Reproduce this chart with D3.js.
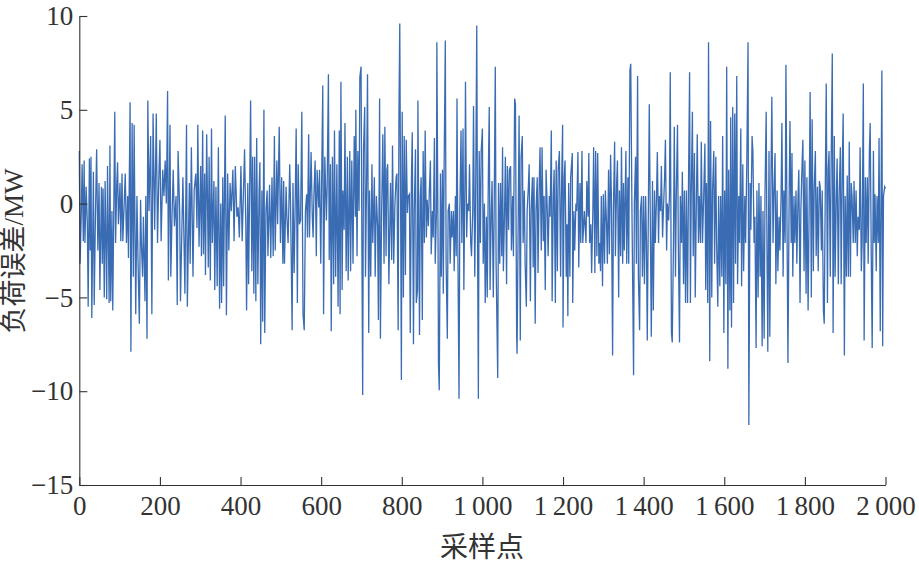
<!DOCTYPE html>
<meta charset="utf-8">
<script src="https://cdn.jsdelivr.net/npm/d3@7"></script>
<style>
  body { margin: 0; background: #fff; }
</style>
<div id="my_dataviz"></div>

<script>

// sample number (x) and load error in MW (y)
var sampleNo = [
  0,2,5,7,10,12,14,17,20,22,25,27,29,31,35,37,40,43,46,49,51,55,57,59,62,64,68,70,74,76,78,81,83,88,90,93,95,97,101,103,106,108,112,114,117,120,122,126,128,131,134,136,140,143,146,149,152,154,157,159,163,165,168,170,173,177,180,183,187,191,194,197,200,203,207,210,213,216,219,221,225,227,230,233,236,240,243,245,249,
  251,257,262,266,268,273,275,278,282,285,289,292,294,297,301,303,306,308,311,313,316,320,322,325,328,330,334,336,339,342,345,348,351,353,356,358,362,365,368,371,374,377,381,384,387,391,394,397,401,404,407,410,413,415,418,420,425,428,430,433,435,438,440,443,446,448,450,453,455,458,460,463,466,468,472,475,478,481,484,486,490,492,496,499,502,505,
  507,509,513,515,518,522,524,528,530,533,536,538,541,543,546,549,552,555,558,561,564,566,569,571,575,578,580,582,585,588,590,594,596,599,602,604,606,609,613,615,618,620,623,625,628,631,633,636,639,642,645,647,649,652,654,657,659,662,665,667,671,673,676,679,682,685,686,689,691,694,696,699,701,703,705,708,710,713,715,718,720,723,726,728,732,734,737,740,742,745,747,750,753,756,758,761,763,765,768,
  772,775,777,780,783,786,788,791,793,795,797,799,801,804,806,809,811,814,816,819,821,824,826,829,831,834,836,839,840,844,846,848,851,853,856,858,861,863,866,868,871,873,876,878,881,883,886,887,890,891,893,896,898,901,903,905,908,910,913,915,918,920,923,925,928,930,933,935,937,939,942,944,947,949,952,954,957,958,961,963,966,968,971,973,976,978,981,983,986,988,990,992,995,997,1000,1002,1005,1007,1010,1012,1015,1017,1019,1022,1024,1027,
  1029,1032,1034,1038,1040,1043,1045,1048,1050,1052,1055,1057,1060,1062,1065,1067,1070,1072,1075,1077,1080,1082,1085,1086,1089,1091,1094,1096,1099,1101,1104,1106,1109,1111,1114,1116,1119,1121,1124,1126,1128,1131,1133,1136,1138,1141,1143,1146,1148,1151,1153,1156,1158,1161,1163,1166,1168,1171,1173,1176,1178,1181,1183,1186,1188,1191,1194,1196,1199,1200,1203,1205,1208,1210,1212,1214,1217,1219,1223,1224,1227,1229,1232,1234,1237,1239,1242,1244,1247,1249,1253,1257,1259,1262,1264,1266,1269,1271,1274,1276,1279,1281,1284,1286,1289,
  1291,1293,1295,1298,1300,1303,1305,1308,1310,1313,1315,1318,1320,1323,1325,1328,1330,1333,1335,1338,1340,1343,1345,1348,1350,1352,1356,1358,1361,1363,1366,1368,1371,1373,1375,1377,1380,1382,1385,1387,1390,1392,1395,1397,1400,1402,1405,1407,1409,1412,1414,1417,1419,1422,1424,1427,1429,1432,1434,1437,1439,1442,1444,1447,1449,1452,1454,1457,1459,1462,1464,1466,1469,1471,1474,1476,1479,1481,1484,1486,1489,1491,1494,1496,1499,1501,1504,1506,1509,1511,1514,1516,1518,1521,1523,1526,1528,1531,1533,1536,1538,1541,1543,1546,
  1549,1552,1554,1556,1559,1561,1564,1566,1569,1571,1574,1576,1579,1581,1584,1586,1589,1591,1594,1596,1599,1601,1604,1606,1609,1611,1614,1616,1618,1621,1623,1626,1628,1631,1633,1636,1638,1641,1643,1646,1648,1651,1653,1656,1659,1661,1664,1666,1669,1671,1674,1676,1679,1681,1684,1686,1689,1691,1694,1696,1699,1701,1704,1706,1708,1711,1713,1716,1718,1721,1723,1726,1728,1731,1733,1736,1738,1741,1743,1746,1748,1751,1753,1756,1758,1761,1763,1766,1768,1770,1773,1775,1778,1780,1783,1785,1788,1790,1793,1795,1798,1800,1803,1805,1808,
  1811,1813,1816,1818,1821,1823,1826,1828,1831,1833,1836,1838,1841,1843,1846,1848,1851,1853,1856,1858,1860,1863,1865,1868,1870,1873,1875,1878,1880,1883,1885,1888,1890,1893,1895,1898,1900,1903,1905,1908,1910,1913,1915,1917,1920,1922,1925,1927,1930,1932,1935,1937,1940,1942,1945,1947,1950,1952,1955,1957,1960,1962,1965,1967,1970,1972,1974,1977,1979,1982,1984,1987,1989,1991,1993,1995,1998,2000
];

var loadErr = [
  2.8,-3.2,-0.4,2.1,-2.0,2.3,-2.1,0.9,-1.1,-5.5,2.4,-2.5,2.5,-6.1,1.7,-5.4,-0.7,2.9,-2.5,1.1,-4.6,0.9,-3.2,0.8,-5.0,1.2,-5.1,2.0,-5.3,3.1,-5.2,-0.4,-5.7,4.9,-2.1,1.1,2.2,-1.1,1.1,-2.0,1.6,-2.0,0.4,1.6,-2.1,0.4,-2.9,5.4,-7.9,4.3,-3.9,4.2,-5.9,0.4,-3.4,-6.4,0.2,-2.1,-3.9,-0.7,-5.2,0.4,-7.2,5.5,-0.4,3.6,-5.9,4.8,-1.4,4.8,-2.1,1.1,3.4,-2.0,1.8,0.4,2.3,0,6.0,-4.1,4.2,-3.9,-0.7,1.8,-1.2,0.4,-5.4,2.8,-0.4,
  -5.2,1.4,-4.8,4.2,-5.5,1.1,-3.2,3.0,-3.9,0.7,1.6,-1.3,4.2,-2.3,2.0,-2.8,3.9,-2.7,1.6,-3.8,3.7,-3.4,2.5,-4.1,4.0,-2.1,1.2,-4.6,0.9,-4.4,3.0,-5.6,0,-5.3,1.4,-4.4,4.7,-5.95,1.6,-2.5,1.1,-0.4,1.8,-2.0,2.0,-0.7,-0.2,-1.8,2.0,-2.0,0.4,2.9,-1.1,-5.7,1.1,-4.3,5.5,-3.6,2.5,-4.8,2.5,-5.2,3.5,-4.3,0.7,2.2,-7.5,0.7,-6.3,5.0,-6.9,-0.4,0.7,-2.8,1.0,-2.9,1.4,-2.8,3.6,-2.5,2.3,-1.1,4.1,-2.1,1.4,-3.2,
  1.2,-3.2,0.9,-0.7,-2.1,2.1,0,-6.75,1.1,-3.7,0.7,4.0,-5.3,2.1,-1.1,-0.9,4.9,-5.9,-6.75,-0.4,0.5,-1.8,3.7,-1.8,2.75,-0.7,-1.8,0.4,2.3,-2.8,1.8,-0.2,1.8,-3.2,2.7,6.3,-5.9,2.5,-0.9,1.1,6.9,-3.0,2.1,-6.8,2.5,-4.3,3.9,-3.9,2.1,-5.5,3.9,-5.9,6.5,-4.6,0.7,-1.4,4.3,-3.6,2.5,-4.1,2.8,-3.6,2.3,-3.2,3.6,-0.7,5.0,-2.8,2.8,-0.4,6.75,7.3,-2.1,-10.2,2.8,5.15,-3.9,1.8,6.9,-6.9,0.7,-3.9,2.1,-2.1,1.4,-3.9,0.4,-1.2,-6.2,5.6,-7.2,-0.5,3.7,-3.2,4.1,-2.8,1.8,2.1,-4.3,
  1.1,-3.0,3.1,-3.2,0,1.4,1.6,-6.75,4.8,9.6,0.4,-9.4,4.9,-5.0,3.6,-3.8,3.4,-0.5,0.4,0.5,-6.9,1.4,3.8,-7.5,-0.4,2.9,-5.3,-4.6,5.5,-7.0,0.4,1.4,-6.2,2.8,-2.1,3.9,-1.8,0.2,-1.2,0.4,2.3,-2.7,-0.4,-1.8,3.5,-3.2,-0.4,8.6,-2.1,-8.5,-9.95,1.6,-3.9,1.8,-4.8,1.8,8.7,-3.2,-7.2,-0.4,0,-3.2,-0.4,-1.8,-0.4,-3.6,0.4,-2.8,5.6,-2.1,-10.4,-0.4,3.9,-2.1,4.0,-4.6,2.0,6.5,-1.8,0,-0.4,2.1,-2.1,-2.8,-0.4,5.2,-3.9,-0.4,9.5,-2.1,-10.4,2.8,-2.1,2.8,4.0,-3.2,0,-5.3,-0.7,-5.0,2.0,5.15,-4.6,-0.4,1.2,-5.0,
  -0.9,7.3,-3.2,-9.3,1.1,-3.2,1.1,-2.8,3.0,-3.6,-0.4,2.5,-4.3,2.0,-1.4,1.8,2.0,-2.5,0.4,-2.8,5.6,5.3,-7.1,-8.0,-0.4,4.7,-7.3,2.5,3.6,-2.1,0.7,-3.2,-5.5,-0.4,0.9,2.1,-5.2,-0.4,1.4,-3.4,1.4,-6.4,-0.4,1.4,-3.7,1.1,3.0,-2.5,3.0,-2.0,0.4,-4.6,1.8,-0.4,-2.8,0.4,-0.7,3.9,-5.2,0.4,1.8,-5.3,2.3,-3.6,1.8,2.8,-3.9,0.4,4.2,-6.6,1.4,2.3,-3.9,-1.1,-6.0,1.1,-3.9,1.4,2.7,-5.3,-0.4,-2.5,0,-0.4,2.75,-3.4,1.1,-2.1,2.8,-2.1,-0.4,-2.1,1.2,-0.7,2.7,-2.1,-1.1,-3.7,-0.4,3.0,-3.7,2.8,-2.8,2.7,-3.2,
  -2.1,-3.6,0.4,-4.4,0.5,-3.2,0.7,-1.1,-3.2,1.8,-2.7,2.6,0.4,-8.1,-0.4,3.3,-2.8,1.1,2.3,-5.0,0.7,-2.8,3.0,-3.2,1.1,-2.5,2.8,-3.2,1.4,-3.2,7.1,7.45,-0.4,-4.6,-9.15,0,2.5,-3.2,6.8,-3.9,-6.75,-0.4,0.4,-3.9,0.4,-4.3,0.4,-2.1,-7.3,0.4,5.3,-2.1,-7.1,1.2,-5.7,0.7,-2.1,0.4,2.75,-2.1,0.4,-0.4,2.0,-1.8,-0.4,1.4,3.4,-2.5,0,-0.9,0.4,7.0,-6.9,-7.4,-2.1,4.1,-3.9,0.4,4.2,-2.1,-7.4,0.4,-2.1,1.7,-4.3,0.7,-5.3,0.7,-5.3,0.4,7.0,-5.3,0.4,4.9,-2.8,2.7,-5.0,0.4,3.7,-2.1,0.4,-2.1,3.3,-2.1,
  0.4,3.2,-4.6,1.1,-5.3,8.6,-8.4,4.4,-5.0,0.7,2.8,-3.2,2.5,-2.1,-5.5,0.4,-4.4,0.4,-3.9,3.6,-6.9,0.7,-4.3,7.3,-8.8,1.8,-5.7,4.6,-6.6,5.15,-5.3,4.8,-3.2,6.8,-4.3,0.4,-2.1,4.0,-4.4,2.1,-3.6,0.4,-2.1,2.3,8.6,-11.8,1.1,-1.4,3.6,2.8,-2.1,-0.7,-7.7,0.7,-5.0,1.1,-3.9,0.4,-7.6,-0.4,-7.2,0.4,4.9,-2.5,-7.9,2.8,-7.1,1.6,5.7,-2.1,0.4,2.7,-4.3,0.7,-3.6,-0.7,-2.5,0.4,4.3,-3.9,0.7,-2.1,7.4,-2.1,-8.5,0.4,4.4,-2.1,2.7,-3.9,0.4,-2.1,0.7,-3.2,0.4,1.8,-5.3,-0.4,2.1,3.4,-3.6,2.3,-4.8,1.4,-5.7,
  0.7,5.95,-5.0,4.5,-3.6,0.7,2.8,-2.8,0.9,-3.6,1.2,0.9,-2.5,0.7,-5.7,-6.4,1.8,6.4,-5.3,1.8,2.8,-3.9,1.8,8.0,-6.9,3.6,-3.9,0.4,2.4,-4.3,0.4,3.0,-4.3,2.3,4.8,-8.1,0.4,-3.9,1.5,-3.9,3.3,-3.9,1.1,0.4,-2.1,1.2,-2.1,0.7,-2.8,-0.7,-1.4,3.0,-3.6,-2.1,6.4,-7.3,1.4,-2.1,1.4,-3.2,2.8,4.3,-3.6,-7.7,2.8,-2.1,0.5,-3.6,0.4,-2.1,3.5,-6.8,0.4,7.1,-7.6,0.4,0.9,0.8
];

var yTicks = [-15, -10, -5, 0, 5, 10];
var xTicks = [0, 200, 400, 600, 800, 1000, 1200, 1400, 1600, 1800, 2000];

// set the dimensions and margins of the graph
var margin = {top: 16, right: 33.5, bottom: 77, left: 79.3},
  width = 919 - margin.left - margin.right,
  height = 562 - margin.top - margin.bottom;

var svg = d3.select("#my_dataviz")
.append("svg")
  .attr("width", 919)
  .attr("height", 562)
.append("g")
  .attr("transform", "translate(" + margin.left + "," + margin.top + ")");

var fontStack = "'Liberation Serif', 'Times New Roman', 'Noto Sans CJK SC', serif";
var axisColor = "#333";

// minus sign and thin-space thousands, like the original figure
var loc = d3.formatLocale({decimal: ".", thousands: "\u2009", grouping: [3], currency: ["", ""], minus: "\u2212"});
var fmt = loc.format(",");

var x = d3.scaleLinear().domain([0, 2000]).range([0, width]);
var y = d3.scaleLinear().domain([-15, 10]).range([height, 0]);

// data line (drawn first, axes on top)
var pts = d3.zip(sampleNo, loadErr);
svg.append("path")
  .datum(pts)
  .attr("fill", "none")
  .attr("stroke", "#3a6cb4")
  .attr("stroke-width", 1.3)
  .attr("stroke-linejoin", "miter")
  .attr("d", d3.line()
    .x(function(d) { return x(d[0]); })
    .y(function(d) { return y(d[1]); }));

// axes, ticks pointing inward
var xAxis = svg.append("g")
  .attr("transform", "translate(0," + height + ")")
  .call(d3.axisBottom(x).tickValues(xTicks).tickFormat(fmt)
    .tickSizeInner(-8).tickSizeOuter(0).tickPadding(11));

var yAxis = svg.append("g")
  .call(d3.axisLeft(y).tickValues(yTicks).tickFormat(fmt)
    .tickSizeInner(-8).tickSizeOuter(0).tickPadding(6));

[xAxis, yAxis].forEach(function(g) {
  g.select(".domain").attr("stroke", axisColor).attr("stroke-width", 1.1);
  g.selectAll(".tick line").attr("stroke", axisColor).attr("stroke-width", 1.1);
  g.selectAll(".tick text")
    .attr("fill", axisColor)
    .style("font-family", fontStack)
    .style("font-size", "27px");
});

// axis titles
svg.append("text")
  .attr("transform", "translate(" + (14 - margin.left) + "," + (251 - margin.top) + ") rotate(-90)")
  .attr("dy", "0.35em")
  .style("text-anchor", "middle")
  .style("font-family", fontStack)
  .style("font-size", "27px")
  .attr("fill", axisColor)
  .text("负荷误差/MW");

svg.append("text")
  .attr("x", 482 - margin.left)
  .attr("y", 557 - margin.top)
  .style("text-anchor", "middle")
  .style("font-family", fontStack)
  .style("font-size", "28px")
  .attr("fill", axisColor)
  .text("采样点");

</script>
